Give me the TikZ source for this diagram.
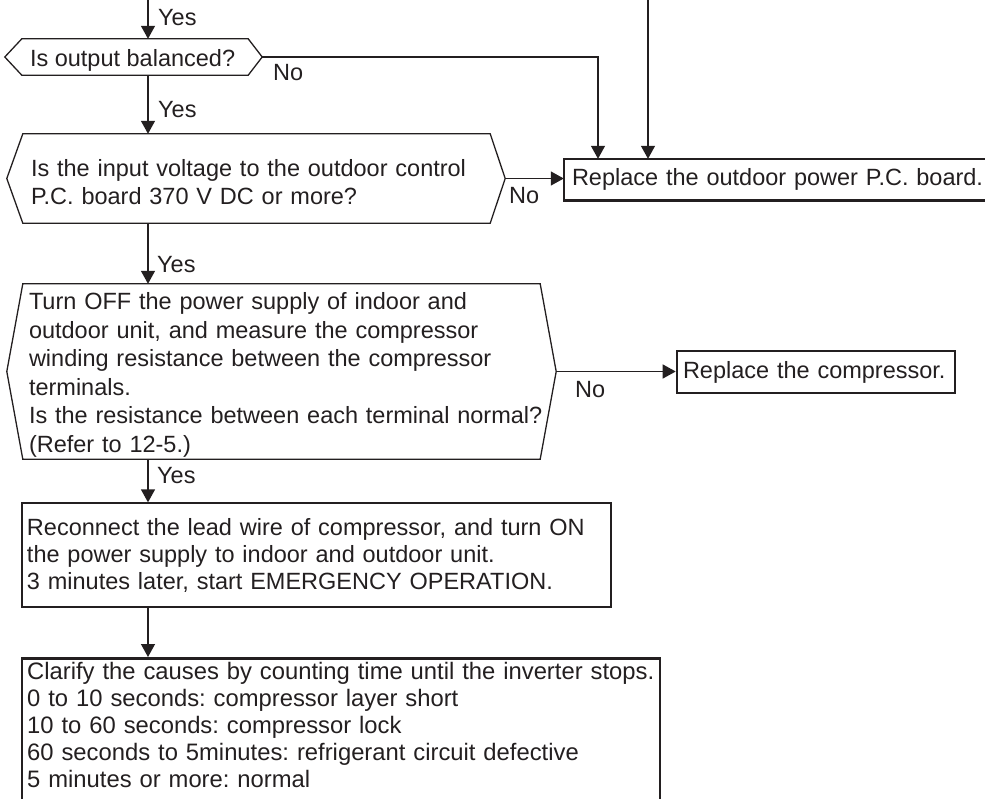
\documentclass[tikz,border=0pt]{standalone}
\usepackage{fontspec}
\setmainfont{Liberation Sans}
\usetikzlibrary{arrows.meta,calc}
\definecolor{ink}{HTML}{231F20}
\frenchspacing
\hyphenpenalty=10000
\newcommand\myfs{\fontsize{23.5pt}{28.5pt}\selectfont}
\newcommand\myfsb{\fontsize{23.5pt}{27pt}\selectfont}
\newcommand\myfsc{\fontsize{23.8pt}{27pt}\selectfont}
\newcommand\drawhex[3]{\draw[line] (#1.north west) -- (#1.north east) -- ($(#1.east)+(#3,0)$) coordinate (#1tip) -- (#1.south east) -- (#1.south west) -- ($(#1.west)-(#2,0)$) -- cycle;}
\begin{document}
\begin{tikzpicture}[x=1pt,y=-1pt,
  line/.style={draw=ink, line width=1.3pt},
  arr/.style={line, -{Triangle[length=13pt,width=14pt]}},
  hexbody/.style={inner xsep=8pt, inner ysep=0pt, align=left, font=\myfs, text=ink},
  boxthick/.style={draw=ink, line width=2.6pt, inner xsep=8pt, inner ysep=0pt, align=left, font=\myfs, text=ink},
  boxopen/.style={inner xsep=8pt, inner ysep=0pt, align=left, font=\myfs, text=ink},
  thickline/.style={draw=ink, line width=2.6pt},
  boxthin/.style={draw=ink, line width=1.3pt, inner xsep=5pt, inner ysep=0pt, align=left, font=\myfsb, text=ink},
  lab/.style={anchor=base west, inner sep=0pt, font=\myfs, text=ink}
]
\useasboundingbox (0,0) rectangle (985,798);
\clip (0,0) rectangle (985,798);

% decision nodes
\node[hexbody, minimum width=226pt, minimum height=36pt, text width=210pt] (q1) at (135,57) {};
\node[hexbody, anchor=west, yshift=-3.5pt] (q1t) at (q1.west) {Is output balanced?};
\node[hexbody, minimum width=467pt, minimum height=89pt, text width=451pt] (q2) at (256.5,178.5) {};
\node[hexbody, anchor=west, text width=470pt, yshift=-3.5pt] (q2t) at (q2.west) {Is the input voltage to the outdoor control\\P.C. board 370 V DC or more?};
\node[hexbody, inner xsep=6pt, minimum width=517pt, minimum height=175pt, text width=505pt] (q3) at (281.5,371.5) {};
\node[hexbody, inner xsep=6pt, anchor=west, text width=540pt, yshift=-3.5pt] (q3t) at (q3.west) {Turn OFF the power supply of indoor and\\outdoor unit, and measure the compressor\\winding resistance between the compressor\\terminals.\\Is the resistance between each terminal normal?\\(Refer to 12-5.)};
\drawhex{q1}{17}{14}
\drawhex{q2}{16}{15}
\drawhex{q3}{16}{16}

% process boxes
\node[boxopen, minimum width=476pt, minimum height=41pt, text width=460pt] (b1) at (802,179.5) {Replace the outdoor power P.C. board.};
\draw[thickline] (b1.north east) -- (b1.north west) -- (b1.south west) -- (b1.south east);
\node[boxthick, inner xsep=6pt, minimum width=278pt, minimum height=42pt, text width=266pt] (b2) at (816,372) {Replace the compressor.};
\node[boxthin, minimum width=589pt, minimum height=104pt, text width=579pt] (b3) at (316.5,555) {Reconnect the lead wire of compressor, and turn ON\\the power supply to indoor and outdoor unit.\\3 minutes later, start EMERGENCY OPERATION.};
\node[boxthick, inner xsep=5pt, minimum width=638pt, minimum height=180pt, text width=628pt, anchor=north] (b4) at (341,657) {};
\node[lab, anchor=north west, align=left, font=\myfsc, text width=640pt] (b4t) at (27,662) {Clarify the causes by counting time until the inverter stops.\\0 to 10 seconds: compressor layer short\\10 to 60 seconds: compressor lock\\60 seconds to 5minutes: refrigerant circuit defective\\5 minutes or more: normal};

% connector helpers
\coordinate (top1) at (148,-5);
\coordinate (top2) at (648,-5);
\coordinate (j1) at (598,0);

\draw[arr] (top1) -- (top1 |- q1.north);
\draw[arr] (top1 |- q1.south) -- (top1 |- q2.north);
\draw[arr] (q1tip) -| (j1 |- b1.north);
\draw[arr] (top2) -- (top2 |- b1.north);
\draw[arr] (q2tip) -- (q2tip -| b1.west);
\draw[arr] (top1 |- q2.south) -- (top1 |- q3.north);
\draw[arr] (q3tip) -- (q3tip -| b2.west);
\draw[arr] (top1 |- q3.south) -- (top1 |- b3.north);
\draw[arr] (top1 |- b3.south) -- (top1 |- b4.north);

% labels
\node[lab] (y1) at (158,25) {Yes};
\node[lab] (n1) at (273,80) {No};
\node[lab] (y2) at (158,117) {Yes};
\node[lab] (n2) at (509,203) {No};
\node[lab] (y3) at (157,272) {Yes};
\node[lab] (n3) at (575,397) {No};
\node[lab] (y4) at (157,483) {Yes};
\end{tikzpicture}
\end{document}
